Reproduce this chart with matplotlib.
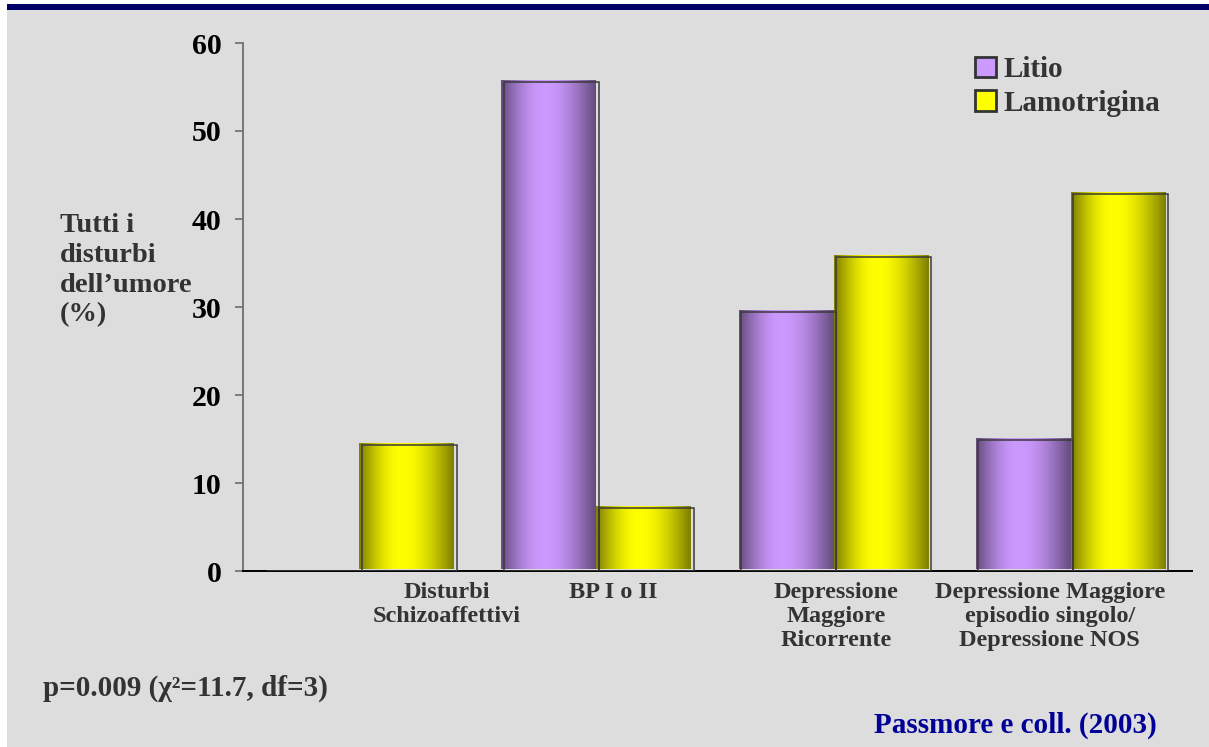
import numpy as np
import matplotlib
matplotlib.use("Agg")
import matplotlib.pyplot as plt
from matplotlib.patches import Rectangle
from matplotlib import transforms

# valori (%) per diagnosi
categorie = ["Disturbi\nSchizoaffettivi", "BP I o II",
             "Depressione\nMaggiore\nRicorrente",
             "Depressione Maggiore\nepisodio singolo/\nDepressione NOS"]
litio = [0, 55.6, 29.4, 14.9]
lamotrigina = [14.3, 7.2, 35.7, 42.8]
serie = ["Litio", "Lamotrigina"]
colori = ["#cc99ff", "#ffff00"]
pos_etichette = [0.36, 1.06, 2.0, 2.9]

plt.rcParams["font.family"] = ["Liberation Serif", "DejaVu Serif"]
plt.rcParams["font.weight"] = "bold"

fig = plt.figure(figsize=(12.09, 7.47), dpi=100)
fig.patch.set_facecolor("white")
# sfondo grigio e barra blu in alto
fig.add_artist(Rectangle((7 / 1209, 0), 1, 1 - 4 / 747, transform=fig.transFigure,
                         facecolor="#dddddd", edgecolor="none", zorder=-10))
fig.add_artist(Rectangle((7 / 1209, 1 - 10 / 747), 1, 6 / 747, transform=fig.transFigure,
                         facecolor="#000066", edgecolor="none", zorder=-9))

ax = fig.add_axes([243 / 1209, 1 - 571 / 747, (1192 - 243) / 1209, (571 - 43) / 747])
ax.set_facecolor("none")
ax.set_xlim(-0.5, 3.5)
ax.set_ylim(0, 60)

def gradiente(colore, n=64, picco=0.45):
    t = np.linspace(0, 1, n)
    f = np.where(t < picco, np.sin(np.pi / 2 * t / picco),
                 np.sin(np.pi / 2 * (1 - t) / (1 - picco)))
    c = np.array(matplotlib.colors.to_rgb(colore))
    rgb = c[None, :] * (0.5 + 0.5 * f[:, None])
    return rgb[None, :, :]

w = 0.4
x = np.arange(len(categorie))
faccia = transforms.offset_copy(ax.transData, fig=fig, x=-2.5, y=2, units="dots")
for valori, colore, dx in [(litio, colori[0], -w / 2), (lamotrigina, colori[1], w / 2)]:
    barre = ax.bar(x + dx, valori, width=w, fill=False, edgecolor="#3a3a3a",
                   linewidth=1.1, zorder=3)
    img = gradiente(colore)
    for b, v in zip(barre, valori):
        if v <= 0:
            continue
        x0, w0 = b.get_x(), b.get_width()
        clip = Rectangle((x0, 0), w0, v, transform=faccia, facecolor="none", edgecolor="none")
        ax.add_patch(clip)
        im = ax.imshow(img, extent=(x0, x0 + w0, 0, v), aspect="auto",
                       transform=faccia, zorder=2, interpolation="bilinear")
        im.set_clip_path(clip)
ax.set_xlim(-0.5, 3.5)
ax.set_ylim(0, 60)

for s in ["top", "right"]:
    ax.spines[s].set_visible(False)
ax.spines["left"].set_color("#6e6e6e")
ax.spines["left"].set_linewidth(1.3)
ax.spines["bottom"].set_color("black")
ax.spines["bottom"].set_linewidth(1.4)

ax.set_yticks(range(0, 61, 10))
ax.tick_params(axis="y", length=5.5, width=1.2, color="#6e6e6e", pad=10, labelsize=21.5)
for lab in ax.get_yticklabels():
    lab.set_fontweight("bold")
ax.set_xticks(pos_etichette)
ax.set_xticklabels(categorie, fontsize=17.5, fontweight="bold", color="#333333",
                   linespacing=1.18)
ax.tick_params(axis="x", length=0, pad=8)

# legenda
maniglie = [Rectangle((0, 0), 1, 1, facecolor=c, edgecolor="#333333", linewidth=2)
            for c in colori]
leg = fig.legend(maniglie, serie, loc="upper left",
                 bbox_to_anchor=(949 / 1209, 1 - 30 / 747), frameon=False,
                 prop={"size": 21, "weight": "bold"}, handlelength=0.72, handleheight=0.72,
                 handletextpad=0.25, labelspacing=0.22)
for t in leg.get_texts():
    t.set_color("#333333")

fig.text(60 / 1209, 1 - 213 / 747, "Tutti i\ndisturbi\ndell\u2019umore\n(%)",
         fontsize=20.5, fontweight="bold", color="#333333", ha="left", va="top",
         linespacing=1.25)
fig.text(43 / 1209, 1 - 696 / 747, "p=0.009 (\u03c7\u00b2=11.7, df=3)",
         fontsize=21, fontweight="bold", color="#333333", ha="left", va="baseline")
fig.text(1157 / 1209, 1 - 733 / 747, "Passmore e coll. (2003)",
         fontsize=21, fontweight="bold", color="#000099", ha="right", va="baseline")

fig.savefig("out.png", dpi=100)
